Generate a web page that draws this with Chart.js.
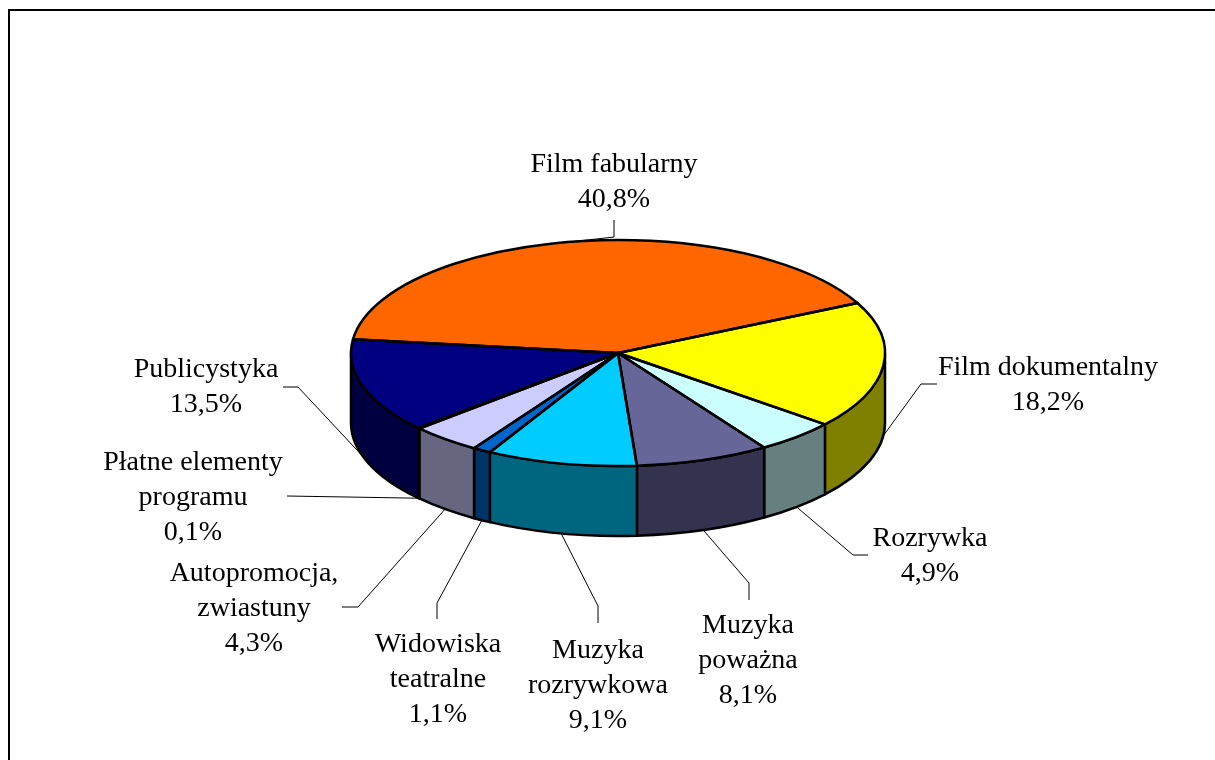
<!DOCTYPE html>
<html>
<head>
<meta charset="utf-8">
<style>
html,body{margin:0;padding:0;background:#fff;overflow:hidden}
#wrap{position:relative;width:1215px;height:760px;overflow:hidden}
#frame{position:absolute;left:8px;top:9px;width:1400px;height:900px;border-left:2px solid #000;border-top:2px solid #000}
canvas{position:absolute;left:0;top:0}
</style>
<script src="https://cdn.jsdelivr.net/npm/chart.js@4/dist/chart.umd.min.js"></script>
</head>
<body>
<div id="wrap"><div id="frame"></div><canvas id="c" width="1215" height="760"></canvas></div>
<script>
// ---- data ----
const categories = ['Film fabularny','Film dokumentalny','Rozrywka','Muzyka\npoważna','Muzyka\nrozrywkowa','Widowiska\nteatralne','Autopromocja,\nzwiastuny','Płatne elementy\nprogramu','Publicystyka'];
const values = [40.8, 18.2, 4.9, 8.1, 9.1, 1.1, 4.3, 0.1, 13.5];

// ---- styles ----
const topColors  = ['#FF6600','#FFFF00','#CCFFFF','#666699','#00CCFF','#0066CC','#CCCCFF','#FFFFCC','#000080'];
const sideColors = ['#803300','#808000','#668080','#333350','#006680','#003366','#666680','#808066','#000040'];

// label layout: text centre x, first baseline y, leader elbow and end
const labelLayout = [
  {x:614, y:172, elbow:[614,237], end:[614,220]},
  {x:1048,y:375, elbow:[921,384], end:[937,384]},
  {x:930, y:546, elbow:[853,555], end:[868,555]},
  {x:748, y:633, elbow:[749,583], end:[749,600]},
  {x:598, y:658, elbow:[598,606], end:[598,623]},
  {x:438, y:652, elbow:[437,603], end:[437,619]},
  {x:254, y:581, elbow:[358,607], end:[342,607]},
  {x:193, y:470, elbow:[287,496], end:[287,496]},
  {x:206, y:377, elbow:[298,387], end:[283,387]}
];

function fmt(v){ return v.toFixed(1).replace('.', ',') + '%'; }

function frontSegments(a1, a2){
  const T = Math.PI*2, out = [];
  let n = Math.floor(a1 / T) * T - T;
  for(; n <= a2; n += T){
    const s = Math.max(a1, n), e = Math.min(a2, n + Math.PI);
    if(e > s + 1e-6) out.push([s, e]);
  }
  return out;
}

const pie3d = {
  id: 'pie3d',
  beforeDatasetsDraw(chart, args, o){
    const ctx = chart.ctx, arcs = chart.getDatasetMeta(0).data;
    const cx = arcs[0].x, cy = arcs[0].y, r = arcs[0].outerRadius, ry = r*o.tilt, d = o.depth;
    ctx.save();
    ctx.lineWidth = o.edgeWidth; ctx.strokeStyle = '#000'; ctx.lineJoin = 'round';
    arcs.forEach((arc, i) => {
      frontSegments(arc.startAngle, arc.endAngle).forEach(([s, e]) => {
        ctx.beginPath();
        ctx.ellipse(cx, cy, r, ry, 0, s, e, false);
        ctx.lineTo(cx + r*Math.cos(e), cy + ry*Math.sin(e) + d);
        ctx.ellipse(cx, cy + d, r, ry, 0, e, s, true);
        ctx.closePath();
        ctx.fillStyle = o.sideColors[i];
        ctx.fill(); ctx.stroke();
      });
    });
    ctx.restore();
    ctx.save();
    ctx.translate(0, cy); ctx.scale(1, o.tilt); ctx.translate(0, -cy);
  },
  afterDatasetsDraw(chart, args, o){
    const ctx = chart.ctx, arcs = chart.getDatasetMeta(0).data;
    ctx.restore();
    const cx = arcs[0].x, cy = arcs[0].y, r = arcs[0].outerRadius, ry = r*o.tilt;
    ctx.save();
    ctx.lineWidth = o.edgeWidth; ctx.strokeStyle = '#000'; ctx.lineJoin = 'round';
    arcs.forEach(arc => {
      ctx.beginPath();
      ctx.moveTo(cx, cy);
      ctx.ellipse(cx, cy, r, ry, 0, arc.startAngle, arc.endAngle, false);
      ctx.closePath();
      ctx.stroke();
    });
    ctx.restore();
  },
  afterDraw(chart, args, o){
    const ctx = chart.ctx, arcs = chart.getDatasetMeta(0).data;
    const cx = arcs[0].x, cy = arcs[0].y, r = arcs[0].outerRadius, ry = r*o.tilt, d = o.depth;
    ctx.save();
    ctx.strokeStyle = '#000'; ctx.lineWidth = 1;
    ctx.fillStyle = '#000';
    ctx.font = o.font; ctx.textAlign = 'center'; ctx.textBaseline = 'alphabetic';
    arcs.forEach((arc, i) => {
      const L = o.layout[i];
      const m = (arc.startAngle + arc.endAngle) / 2;
      const sm = Math.sin(m);
      const ax = cx + r*Math.cos(m), ay = cy + ry*sm + (sm > 0 ? d : 0);
      ctx.beginPath();
      ctx.moveTo(ax, ay);
      ctx.lineTo(L.elbow[0], L.elbow[1]);
      ctx.lineTo(L.end[0], L.end[1]);
      ctx.stroke();
      const lines = chart.data.labels[i].split('\n').concat([fmt(chart.data.datasets[0].data[i])]);
      lines.forEach((t, j) => ctx.fillText(t, L.x, L.y + j*o.lineHeight));
    });
    ctx.restore();
  }
};

new Chart(document.getElementById('c'), {
  type: 'pie',
  data: {
    labels: categories,
    datasets: [{
      data: values,
      backgroundColor: topColors,
      borderWidth: 0,
      clip: false
    }]
  },
  options: {
    responsive: false,
    animation: false,
    events: [],
    rotation: 277,
    radius: 267,
    layout: { padding: { left: 21, right: 0, top: 0, bottom: 54 } },
    plugins: {
      legend: { display: false },
      tooltip: { enabled: false },
      pie3d: {
        tilt: 113/267, depth: 70, edgeWidth: 2.5,
        sideColors: sideColors,
        layout: labelLayout,
        font: "28px 'Liberation Serif'",
        lineHeight: 35
      }
    }
  },
  plugins: [pie3d]
});
</script>
</body>
</html>
